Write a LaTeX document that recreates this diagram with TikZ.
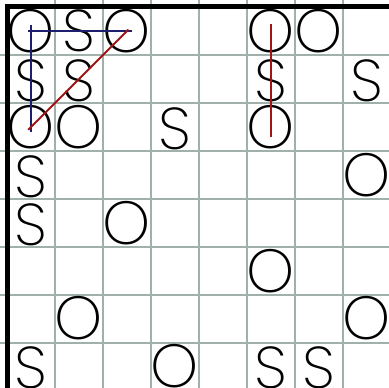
\documentclass[tikz,border=0pt]{standalone}
\usepackage{fontspec}
\setmainfont{Poppins}[UprightFont=* ExtraLight]
\definecolor{gridgray}{RGB}{160,176,171}
\definecolor{navyline}{RGB}{30,30,110}
\definecolor{redline}{RGB}{160,20,20}
\begin{document}
\begin{tikzpicture}[x=1pt,y=-1pt,
  gridl/.style={draw=gridgray,line width=2.4pt},
  border/.style={draw=black,line width=4.5pt},
  sletter/.style={inner sep=0pt,font=\fontsize{59}{59}\selectfont},
  oletter/.style={inner sep=0pt,font=\fontsize{61}{61}\selectfont},
  blueln/.style={draw=navyline,line width=2pt},
  redln/.style={draw=redline,line width=2pt}]
\useasboundingbox (0,0) rectangle (389,388);
\fill[white] (0,0) rectangle (389,388);
\foreach \i in {1,...,7} {
  \draw[gridl] (7+48*\i,0) -- (7+48*\i,388);
  \draw[gridl] (0,7+48*\i) -- (389,7+48*\i);
}
\draw[border] (7.5,388) -- (7.5,6.5) -- (389,6.5);
% row 0
\node[oletter] (O00) at (31,31) {O};
\node[sletter] (S01) at (79,31) {S};
\node[oletter] (O02) at (127,31) {O};
\node[oletter] (O05) at (271,31) {O};
\node[oletter] (O06) at (319,31) {O};
% row 1
\node[sletter] (S10) at (31,81) {S};
\node[sletter] (S11) at (79,81) {S};
\node[sletter] (S15) at (271,81) {S};
\node[sletter] (S17) at (367,81) {S};
% row 2
\node[oletter] (O20) at (31,127) {O};
\node[oletter] (O21) at (79,127) {O};
\node[sletter] (S23) at (175,129) {S};
\node[oletter] (O25) at (271,127) {O};
% row 3
\node[sletter] (S30) at (31,177) {S};
\node[oletter] (O37) at (367,175) {O};
% row 4
\node[sletter] (S40) at (31,225) {S};
\node[oletter] (O42) at (127,223) {O};
% row 5
\node[oletter] (O55) at (271,271) {O};
% row 6
\node[oletter] (O61) at (79,318) {O};
\node[oletter] (O67) at (367,318) {O};
% row 7
\node[sletter] (S70) at (31,368) {S};
\node[oletter] (O73) at (175,366) {O};
\node[sletter] (S75) at (271,368) {S};
\node[sletter] (S76) at (319,368) {S};
% connectors
\draw[blueln,shorten <=-3pt,shorten >=-5pt] (O00.center) -- (O02.center);
\draw[blueln,shorten <=-6pt,shorten >=-5pt] (O00.center) -- (O20.center);
\draw[redln,shorten <=-2pt,shorten >=-4pt] (O02.center) -- (O20.center);
\draw[redln,shorten <=-7pt,shorten >=-10pt] (O05.center) -- (O25.center);
\end{tikzpicture}
\end{document}
